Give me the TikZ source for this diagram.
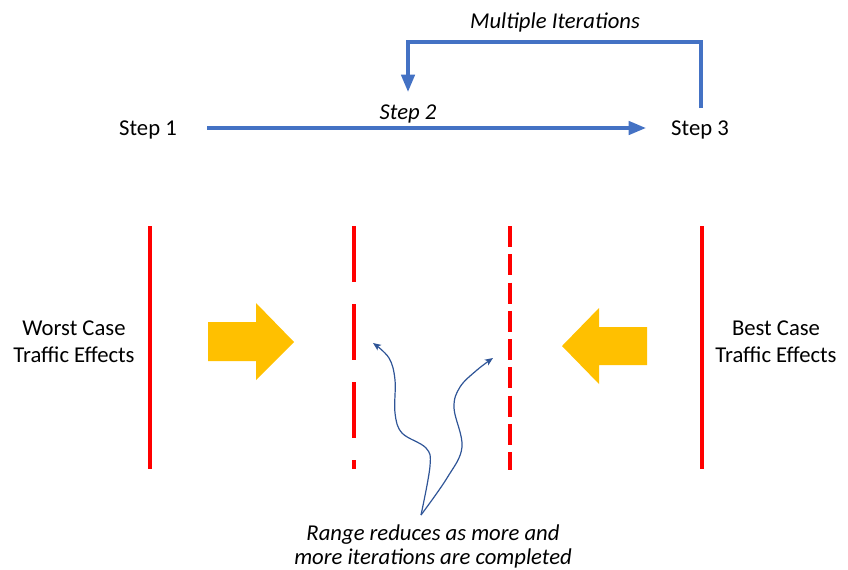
\documentclass[tikz,border=0pt]{standalone}
\usepackage{fontspec}
\setmainfont{Carlito}
\usetikzlibrary{arrows.meta}
\definecolor{blu}{HTML}{4472C4}
\definecolor{dblu}{HTML}{2F5597}
\definecolor{yel}{HTML}{FFC000}
\definecolor{rd}{HTML}{FF0000}
\begin{document}
\begin{tikzpicture}[x=0.75pt,y=-0.75pt,
  lbl/.style={font=\fontsize{17}{20.5}\selectfont, align=center, inner sep=0pt},
  ilbl/.style={lbl, font=\fontsize{17}{20.5}\selectfont\itshape},
  flow/.style={draw=blu, line width=2.6pt, -{Triangle[length=13pt,width=10pt]}},
  redl/.style={draw=rd, line width=2.5pt},
  bigarrow/.style={fill=yel, draw=none},
  curv/.style={draw=dblu, line width=0.9pt, -{Stealth[length=6pt,width=5pt,inset=1.5pt]}}
]
\useasboundingbox (0,0) rectangle (848,569);

% top flow
\node[lbl] (s1) at (148,130) {Step 1};
\node[lbl] (s3) at (700,130) {Step 3};
\node[ilbl] (s2) at (408,114) {Step 2};
\node[ilbl] (mi) at (555,22) {Multiple Iterations};
\coordinate (m1) at (207,128);
\coordinate (m2) at (646,128);
\draw[flow] (m1) -- (m2);
\coordinate (l1) at (701,108);
\coordinate (l2) at (408,92);
\draw[flow, line join=miter] (l1) -- (701,42) -- (408,42) -- (l2);

% red lines
\coordinate (r1a) at (150,226); \coordinate (r1b) at (150,469);
\coordinate (r2a) at (354,226); \coordinate (r2b) at (354,469);
\coordinate (r3a) at (510,226); \coordinate (r3b) at (510,470);
\coordinate (r4a) at (702,226); \coordinate (r4b) at (702,469);
\draw[redl] (r1a) -- (r1b);
\draw[redl, dash pattern=on 42pt off 16.5pt] (r2a) -- (r2b);
\draw[redl, dash pattern=on 15.8pt off 5.4pt] (r3a) -- (r3b);
\draw[redl] (r4a) -- (r4b);

% side labels
\node[lbl] (wc) at (74,342) {Worst Case\\Traffic Effects};
\node[lbl] (bc) at (776,342) {Best Case\\Traffic Effects};

% yellow arrows
\fill[bigarrow] (208,322) -- (256,322) -- (256,303) -- (294,342) -- (256,380) -- (256,361) -- (208,361) -- cycle;
\fill[bigarrow] (647,327) -- (599,327) -- (599,308) -- (562,346) -- (599,384) -- (599,365) -- (647,365) -- cycle;

% curvy arrows
\coordinate (o) at (421,515);
\coordinate (t1) at (373,343);
\coordinate (t2) at (493,358);
\draw[curv] plot[smooth, tension=0.6] coordinates {(o) (430,466) (426,448) (402,433) (395,413) (395,380) (389,358) (t1)};
\draw[curv] plot[smooth, tension=0.6] coordinates {(o) (447,478) (462,447) (454,408) (460,387) (477,370) (t2)};

% bottom text
\node[ilbl, font=\fontsize{17}{17.5}\selectfont\itshape] (rng) at (433,546.5) {Range reduces as more and\\more iterations are completed};
\end{tikzpicture}
\end{document}
